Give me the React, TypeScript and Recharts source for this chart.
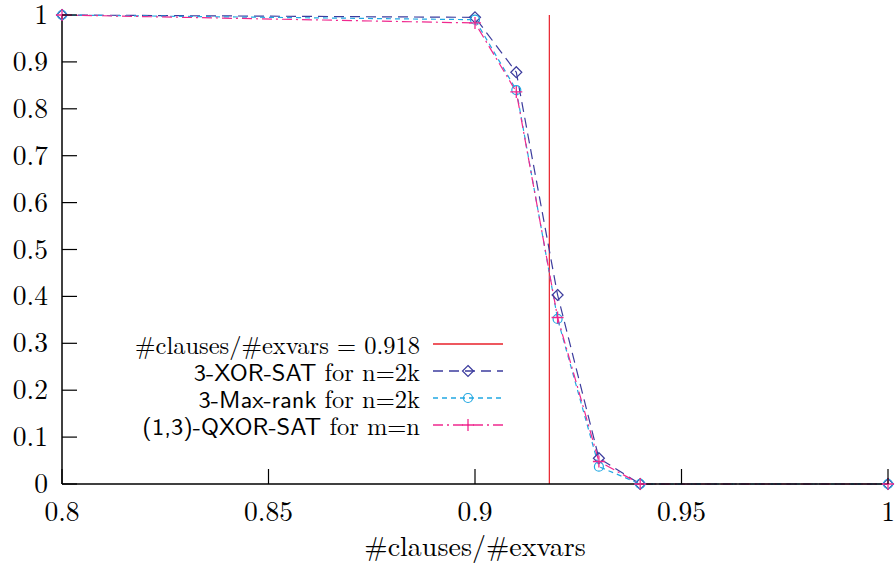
import React from 'react';
import {
  ComposedChart,
  Line,
  XAxis,
  YAxis,
  ReferenceLine,
  Legend,
} from 'recharts';

const ratios = [0.8, 0.9, 0.91, 0.92, 0.93, 0.94, 1.0];
const xorSat = [1, 0.995, 0.878, 0.403, 0.055, 0, 0];
const maxRank = [1, 0.99, 0.84, 0.352, 0.037, 0, 0];
const qxorSat = [1, 0.983, 0.836, 0.355, 0.048, 0, 0];

const threshold = 0.918;
const xTicks = [0.8, 0.85, 0.9, 0.95, 1];
const yTicks = [0, 0.1, 0.2, 0.3, 0.4, 0.5, 0.6, 0.7, 0.8, 0.9, 1];

const seriesNames = ['3-XOR-SAT', '3-Max-rank', '(1,3)-QXOR-SAT'];
const seriesSuffix = ['for n=2k', 'for n=2k', 'for m=n'];
const thresholdLabel = '#clauses/#exvars = 0.918';
const xAxisLabel = '#clauses/#exvars';

const SERIF = "'Latin Modern Roman', 'Liberation Serif', monospace";
const SANS = "'Latin Modern Sans', 'Liberation Sans', monospace";
const RED = '#e8202a';
const colors = ['#3c3c9e', '#22a8e2', '#f0288e'];
const dashes = ['10 6', '5 4', '10 4 2 4'];

const data = ratios.map((r, i) => ({
  ratio: r,
  xor: xorSat[i],
  maxRank: maxRank[i],
  qxor: qxorSat[i],
}));

const fmt = (v: number) => String(Number(v.toFixed(2)));

const Marker = ({ kind, cx, cy, color }: { kind: number; cx: number; cy: number; color: string }) => {
  if (kind === 0) {
    const s = 5.5;
    return (
      <path
        d={`M${cx},${cy - s}L${cx + s},${cy}L${cx},${cy + s}L${cx - s},${cy}Z`}
        fill="none"
        stroke={color}
        strokeWidth={1.2}
      />
    );
  }
  if (kind === 1) {
    return <circle cx={cx} cy={cy} r={4.5} fill="none" stroke={color} strokeWidth={1.2} />;
  }
  const s = 6;
  return (
    <path
      d={`M${cx - s},${cy}H${cx + s}M${cx},${cy - s}V${cy + s}`}
      stroke={color}
      strokeWidth={1.3}
    />
  );
};

const makeDot = (kind: number) => (props: any) => {
  const { cx, cy, index } = props;
  return (
    <g key={`dot-${kind}-${index}`}>
      <Marker kind={kind} cx={cx} cy={cy} color={colors[kind]} />
    </g>
  );
};

const XTick = (props: any) => {
  const { x, y, payload } = props;
  return (
    <g>
      <line x1={x} x2={x} y1={y} y2={y - 15} stroke="#000" strokeWidth={1.2} />
      <text x={x} y={y + 37} textAnchor="middle" style={{ fontFamily: SERIF, fontSize: 27.5 }} fill="#000">
        {fmt(payload.value)}
      </text>
    </g>
  );
};

const YTick = (props: any) => {
  const { x, y, payload } = props;
  return (
    <g>
      <line x1={x} x2={x + 15} y1={y} y2={y} stroke="#000" strokeWidth={1.2} />
      <text x={x - 14} y={y} dy="0.33em" textAnchor="end" style={{ fontFamily: SERIF, fontSize: 27.5 }} fill="#000">
        {fmt(payload.value)}
      </text>
    </g>
  );
};

const renderLegend = () => {
  const rows = [
    { label: <span>{thresholdLabel}</span>, color: RED, dash: undefined as string | undefined, kind: -1 },
    ...seriesNames.map((n, i) => ({
      label: (
        <span>
          <span style={{ fontFamily: SANS }}>{n}</span> {seriesSuffix[i]}
        </span>
      ),
      color: colors[i],
      dash: dashes[i],
      kind: i,
    })),
  ];
  return (
    <div style={{ fontFamily: SERIF, fontSize: 24.5, lineHeight: '26px', color: '#000' }}>
      {rows.map((row, i) => (
        <div key={i} style={{ display: 'flex', alignItems: 'center', height: 27, whiteSpace: 'nowrap' }}>
          <div style={{ width: 310, textAlign: 'right' }}>{row.label}</div>
          <svg width={72} height={20} style={{ marginLeft: 13 }}>
            <line x1={0} x2={70} y1={10} y2={10} stroke={row.color} strokeWidth={1.3} strokeDasharray={row.dash} />
            {row.kind >= 0 && <Marker kind={row.kind} cx={35} cy={10} color={row.color} />}
          </svg>
        </div>
      ))}
    </div>
  );
};

export default function App() {
  return (
    <div style={{ position: 'absolute', left: 0, top: 0, background: '#fff', fontFamily: SERIF }}>
      <ComposedChart width={895} height={571} data={data} margin={{ top: 15, right: 7, bottom: 0, left: 0 }}>
        <XAxis
          xAxisId="main"
          dataKey="ratio"
          type="number"
          domain={[0.8, 1]}
          ticks={xTicks}
          interval={0}
          height={87}
          tickSize={0}
          tickMargin={0}
          tickLine={false}
          tick={<XTick />}
          axisLine={{ stroke: '#000', strokeWidth: 1.5 }}
          label={{
            value: xAxisLabel,
            position: 'insideBottom',
            offset: 15,
            fill: '#000',
            style: { fontFamily: SERIF, fontSize: 28 },
          }}
        />
        <XAxis
          xAxisId="top"
          orientation="top"
          dataKey="ratio"
          type="number"
          domain={[0.8, 1]}
          height={0}
          tick={false}
          tickLine={false}
          axisLine={{ stroke: '#000', strokeWidth: 1.5 }}
        />
        <YAxis
          yAxisId="main"
          type="number"
          domain={[0, 1]}
          ticks={yTicks}
          interval={0}
          width={62}
          tickSize={0}
          tickMargin={0}
          tickLine={false}
          tick={<YTick />}
          axisLine={{ stroke: '#000', strokeWidth: 1.5 }}
        />
        <YAxis
          yAxisId="right"
          orientation="right"
          type="number"
          domain={[0, 1]}
          width={0}
          tick={false}
          tickLine={false}
          axisLine={{ stroke: '#000', strokeWidth: 1.5 }}
        />
        <ReferenceLine xAxisId="main" yAxisId="main" x={threshold} stroke={RED} strokeWidth={1.2} />
        <Line
          xAxisId="main"
          yAxisId="main"
          dataKey="xor"
          type="linear"
          stroke={colors[0]}
          strokeWidth={1.2}
          strokeDasharray={dashes[0]}
          dot={makeDot(0)}
          isAnimationActive={false}
        />
        <Line
          xAxisId="main"
          yAxisId="main"
          dataKey="maxRank"
          type="linear"
          stroke={colors[1]}
          strokeWidth={1.2}
          strokeDasharray={dashes[1]}
          dot={makeDot(1)}
          isAnimationActive={false}
        />
        <Line
          xAxisId="main"
          yAxisId="main"
          dataKey="qxor"
          type="linear"
          stroke={colors[2]}
          strokeWidth={1.2}
          strokeDasharray={dashes[2]}
          dot={makeDot(2)}
          isAnimationActive={false}
        />
        <Legend
          layout="vertical"
          align="center"
          verticalAlign="middle"
          content={renderLegend}
          wrapperStyle={{ position: 'absolute', left: 110, top: 330, width: 420, height: 110 }}
        />
      </ComposedChart>
    </div>
  );
}
